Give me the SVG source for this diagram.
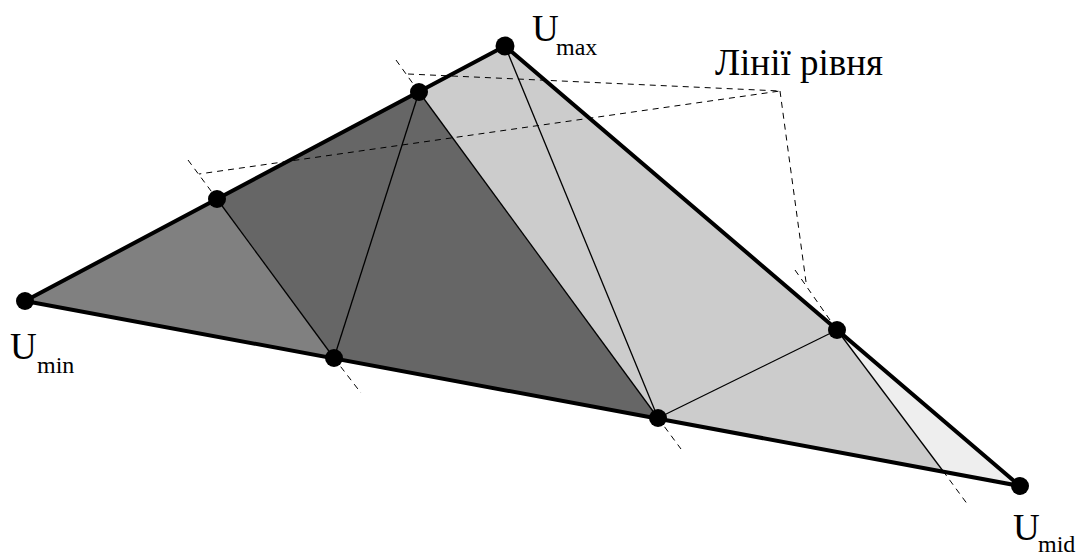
<svg xmlns="http://www.w3.org/2000/svg" width="1082" height="554" viewBox="0 0 1082 554">
  <style>
    .thin { stroke: #000; stroke-width: 1.3; fill: none; }
    .dash { stroke: #000; stroke-width: 1; fill: none; stroke-dasharray: 6 5; }
    .edge { stroke: #000; stroke-width: 4; fill: none; stroke-linejoin: round; }
    .dot { fill: #000; }
    text { font-family: 'Liberation Serif', 'Times New Roman', serif; fill: #000; }
    .lbl { font-size: 37px; }
    .sub { font-size: 24px; }
  </style>
  <rect width="1082" height="554" fill="#fff"/>
  <g id="regions">
    <polygon points="25,301 217,199 334,358" fill="#808080"/>
    <polygon points="217,199 419,92 658,418 334,358" fill="#666666"/>
    <polygon points="419,92 505,46 837,330 943,471 658,418" fill="#cccccc"/>
    <polygon points="837,330 1020,486 943,471" fill="#eeeeee"/>
  </g>
  <g id="connectors">
    <line class="thin" x1="217" y1="199" x2="334" y2="358"/>
    <line class="thin" x1="419" y1="92" x2="658" y2="418"/>
    <line class="thin" x1="837" y1="330" x2="943" y2="471"/>
    <line class="thin" x1="419" y1="92" x2="334" y2="358"/>
    <line class="thin" x1="505" y1="46" x2="658" y2="418"/>
    <line class="thin" x1="658" y1="418" x2="837" y2="330"/>
    <line class="dash" x1="188" y1="160" x2="217" y2="199"/>
    <line class="dash" x1="334" y1="358" x2="361" y2="393"/>
    <line class="dash" x1="396" y1="60" x2="419" y2="92"/>
    <line class="dash" x1="658" y1="418" x2="681" y2="449"/>
    <line class="dash" x1="795" y1="270" x2="837" y2="330"/>
    <line class="dash" x1="943" y1="471" x2="968" y2="505"/>
    <polyline class="dash" points="408,74 780,91 199,174"/>
    <line class="dash" x1="780" y1="91" x2="806" y2="282"/>
    <polygon class="edge" points="25,301 505,46 1020,486"/>
  </g>
  <g id="node-umin">
    <circle class="dot" cx="25" cy="301" r="9"/>
    <text class="lbl" x="10" y="359">U</text>
    <text class="sub" x="37" y="373">min</text>
  </g>
  <g id="node-umax">
    <circle class="dot" cx="505" cy="46" r="9.5"/>
    <text class="lbl" x="532" y="41">U</text>
    <text class="sub" x="556" y="55">max</text>
  </g>
  <g id="node-umid">
    <circle class="dot" cx="1020" cy="486" r="9"/>
    <text class="lbl" x="1013" y="540">U</text>
    <text class="sub" x="1038" y="552">mid</text>
  </g>
  <g id="node-p1"><circle class="dot" cx="217" cy="199" r="9"/></g>
  <g id="node-p2"><circle class="dot" cx="419" cy="92" r="9"/></g>
  <g id="node-q1"><circle class="dot" cx="334" cy="358" r="9"/></g>
  <g id="node-q2"><circle class="dot" cx="658" cy="418" r="9"/></g>
  <g id="node-r1"><circle class="dot" cx="837" cy="330" r="9"/></g>
  <g id="label-levels">
    <text class="lbl" x="715" y="75">Лінії рівня</text>
  </g>
</svg>
